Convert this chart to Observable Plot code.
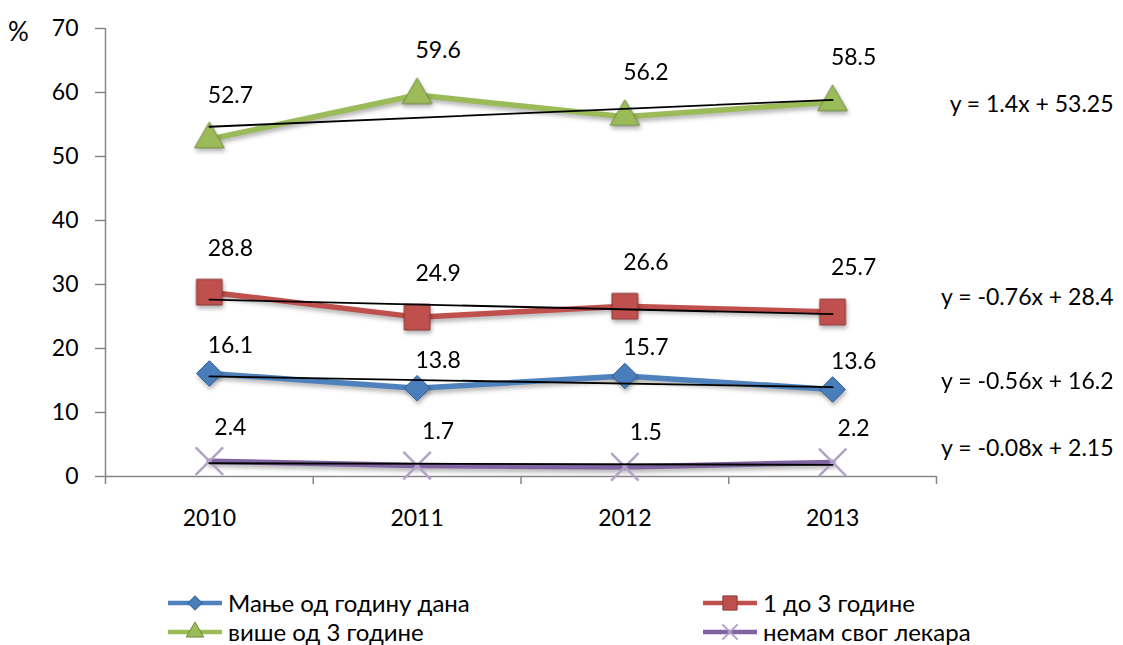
<!DOCTYPE html>
<html>
<head>
<meta charset="utf-8">
<script src="https://cdn.jsdelivr.net/npm/d3@7"></script>
<script src="https://cdn.jsdelivr.net/npm/@observablehq/plot@0.6"></script>
<style>
  html, body { margin: 0; padding: 0; background: #fff; }
  body { width: 1123px; height: 645px; overflow: hidden; font-family: Lato, "Open Sans", sans-serif; }
  #chart { position: relative; width: 1123px; }
  #legend { position: relative; width: 1123px; height: 85px; font-size: 24px; color: #000; }
  .item { position: absolute; height: 20px; line-height: 20px; display: flex; align-items: center; white-space: nowrap; }
  .item span { line-height: 20px; }
  .item svg { margin-right: 6px; overflow: visible; }
  .shadowed { filter: drop-shadow(1px 3px 2px rgba(0,0,0,0.3)); }
</style>
</head>
<body>
<div id="chart"></div>
<div id="legend"></div>
<script>
// ---- data ----
const years = ["2010", "2011", "2012", "2013"];
const seriesNames = ["Мање од годину дана", "1 до 3 године", "више од 3 године", "немам свог лекара"];
const lessThanYear = [16.1, 13.8, 15.7, 13.6];
const oneToThreeYears = [28.8, 24.9, 26.6, 25.7];
const moreThanThreeYears = [52.7, 59.6, 56.2, 58.5];
const noDoctor = [2.4, 1.7, 1.5, 2.2];
const trendSlopes = [-0.56, -0.76, 1.4, -0.08];
const trendIntercepts = [16.2, 28.4, 53.25, 2.15];
const trendLabels = ["y = -0.56x + 16.2", "y = -0.76x + 28.4", "y = 1.4x + 53.25", "y = -0.08x + 2.15"];
const yTicks = [0, 10, 20, 30, 40, 50, 60, 70];
const seriesValues = [lessThanYear, oneToThreeYears, moreThanThreeYears, noDoctor];

// ---- styles ----
const styles = [
  {color: "#4f81bd", fill: "#4a7ebb", edge: "#2c5d98", symbol: "diamond2", r: 11.5, labelDy: -28, trendDy: -7, legendR: 6.5},
  {color: "#c0504d", fill: "#c0504d", edge: "#8c3836", symbol: "square", r: 14.5, labelDy: -44, trendDy: -19, legendR: 8},
  {color: "#9bbb59", fill: "#9bbb59", edge: "#71893f", symbol: "triangle", r: 11, labelDy: -44, trendDy: 9, legendR: 6.5},
  {color: "#8064a2", fill: "none", edge: "#b3a2c7", symbol: "times", r: 12.5, labelDy: -34, trendDy: -16.5, legendR: 7}
];

const rows = [];
seriesValues.forEach((vals, s) => vals.forEach((v, i) => rows.push({s, series: seriesNames[s], x: i + 1, value: v})));
const trendRows = [];
seriesNames.forEach((name, s) => [1, 4].forEach(x => trendRows.push({s, series: name, x, y: trendSlopes[s] * x + trendIntercepts[s]})));

const gray = "#868686";
const marks = [
  Plot.ruleY([0], {x1: 0.5, x2: 4.5, stroke: gray, strokeWidth: 1.5}),
  Plot.ruleX([0.5], {y1: 0, y2: 70, stroke: gray, strokeWidth: 1.5}),
  Plot.axisY({ticks: yTicks, tickSize: 10, tickPadding: 17, stroke: gray, strokeWidth: 1.5, label: null}),
  Plot.axisX({ticks: [0.5, 1.5, 2.5, 3.5, 4.5], tickSize: 8, stroke: gray, strokeWidth: 1.5, tickFormat: () => "", label: null}),
  Plot.axisX({ticks: [1, 2, 3, 4], tickSize: 0, tickPadding: 33, tickFormat: d => years[d - 1], label: null}),
  Plot.text(["%"], {frameAnchor: "top-left", dx: -87, dy: -6, textAnchor: "middle", fontSize: 26})
];

styles.forEach((st, s) => {
  const data = rows.filter(d => d.s === s);
  marks.push(Plot.line(data, {x: "x", y: "value", stroke: st.color, strokeWidth: 5.5, className: "shadowed"}));
  if (st.symbol === "times") {
    marks.push(Plot.dot(data, {x: "x", y: "value", symbol: "times", r: st.r, stroke: st.edge, strokeWidth: 2.5}));
  } else {
    marks.push(Plot.dot(data, {x: "x", y: "value", symbol: st.symbol, r: st.r, fill: st.fill, stroke: st.edge, strokeWidth: 1, className: "shadowed"}));
  }
});
marks.push(Plot.line(trendRows, {x: "x", y: "y", z: "series", stroke: "#000", strokeWidth: 1.8}));
styles.forEach((st, s) => {
  const data = rows.filter(d => d.s === s);
  marks.push(Plot.text(data, {x: "x", y: "value", text: d => d.value.toFixed(1), dx: 21, dy: st.labelDy}));
  marks.push(Plot.text([{x: 4.5, y: trendSlopes[s] * 4.5 + trendIntercepts[s]}], {x: "x", y: "y", text: () => trendLabels[s], textAnchor: "end", dx: 177, dy: st.trendDy}));
});

const chart = Plot.plot({
  width: 1123,
  height: 560,
  marginLeft: 105,
  marginRight: 187,
  marginTop: 28,
  marginBottom: 84,
  x: {type: "linear", domain: [0.5, 4.5]},
  y: {domain: [0, 70]},
  style: {fontFamily: "Lato, 'Open Sans', sans-serif", fontSize: "23px", color: "#000", background: "#fff", overflow: "visible"},
  marks
});
document.getElementById("chart").appendChild(chart);

// ---- legend ----
const legend = document.getElementById("legend");
const positions = [[168, 43], [703, 43], [168, 72], [703, 72]];
styles.forEach((st, s) => {
  const [left, cy] = positions[s];
  const div = document.createElement("div");
  div.className = "item";
  div.style.left = left + "px";
  div.style.top = (cy - 10) + "px";
  const sym = d3.symbol(({diamond2: d3.symbolDiamond2, square: d3.symbolSquare, triangle: d3.symbolTriangle, times: d3.symbolTimes})[st.symbol], Math.PI * st.legendR * st.legendR)();
  const markerAttrs = st.symbol === "times"
    ? `fill="none" stroke="${st.edge}" stroke-width="2"`
    : `fill="${st.fill}" stroke="${st.edge}" stroke-width="1"`;
  div.innerHTML = `<svg width="54" height="20"><line x1="0" x2="54" y1="10" y2="10" stroke="${st.color}" stroke-width="4.5"/><path transform="translate(27,10)" d="${sym}" ${markerAttrs}/></svg><span>${seriesNames[s]}</span>`;
  legend.appendChild(div);
});
</script>
</body>
</html>
